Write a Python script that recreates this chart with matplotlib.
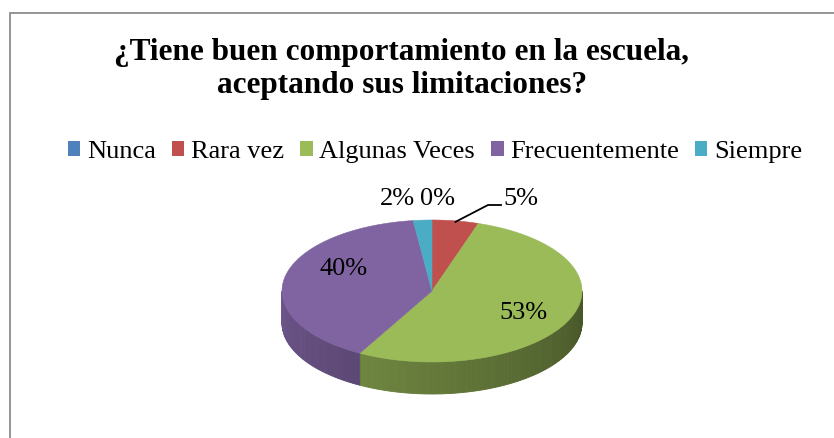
import numpy as np
import matplotlib.pyplot as plt
from matplotlib.patches import Polygon, Rectangle, Patch
from matplotlib.colors import to_rgb

# data
categories = ['Nunca', 'Rara vez', 'Algunas Veces', 'Frecuentemente', 'Siempre']
values = [0, 5, 53, 40, 2]
colors = ['#4F81BD', '#C0504D', '#9BBB59', '#8064A2', '#4BACC6']
title = '¿Tiene buen comportamiento en la escuela,\naceptando sus limitaciones?'

plt.rcParams['font.family'] = ['Liberation Serif', 'DejaVu Serif']

W, H = 834, 438
fig = plt.figure(figsize=(W / 100, H / 100), dpi=100)
ax = fig.add_axes([0, 0, 1, 1])
ax.set_xlim(0, W)
ax.set_ylim(H, 0)
ax.axis('off')

# chart area border (right and bottom edges run off the picture)
ax.add_patch(Rectangle((10, 13), 840, 440, facecolor='white', edgecolor='#8c8c8c', lw=1.3))

# pie geometry (pixels)
cx, cy, a, b, depth = 432, 291, 150, 71, 32


def edge(t):
    """point on the top ellipse, t in degrees clockwise from 12 o'clock"""
    r = np.radians(t)
    return cx + a * np.sin(r), cy - b * np.cos(r)


def shade(c, f):
    return tuple(min(1, v * f) for v in to_rgb(c))


total = float(sum(values))
starts = np.concatenate([[0], np.cumsum(values)[:-1]]) / total * 360
ends = np.cumsum(values) / total * 360

# side walls, drawn as thin strips so the shading can vary
for s, e, c in zip(starts, ends, colors):
    lo, hi = max(s, 90), min(e, 270)
    if hi <= lo:
        continue
    ts = np.linspace(lo, hi, int(hi - lo) + 2)
    for t0, t1 in zip(ts[:-1], ts[1:]):
        x0, y0 = edge(t0)
        x1, y1 = edge(t1)
        f = 0.45 + 0.4 * ((t0 + t1) / 2 - 90) / 180
        col = shade(c, f)
        ax.add_patch(Polygon([(x0, y0), (x1, y1), (x1, y1 + depth), (x0, y0 + depth)],
                             closed=True, facecolor=col, edgecolor=col, lw=0.6))

# top face
for s, e, c in zip(starts, ends, colors):
    if e - s <= 0:
        continue
    ts = np.linspace(s, e, max(int(e - s), 2) + 1)
    pts = [(cx, cy)] + [edge(t) for t in ts]
    ax.add_patch(Polygon(pts, closed=True, facecolor=c, edgecolor=c, lw=0.4))

# data labels
lab_font = dict(fontsize=19, ha='center', va='center', color='black')
label_pos = [(438, 199), (521, 199), (523, 313), (344, 269), (397, 199)]
for v, (lx, ly) in zip(values, label_pos):
    ax.text(lx, ly, '{}%'.format(v), **lab_font)

# leader line for the "Rara vez" label
mid = (starts[1] + ends[1]) / 2
px, py = edge(mid)
ax.plot([px, 488, 501], [py + 1, 205, 205], color='black', lw=1.3)

# title
ax.text(402, 69, title, fontsize=22.5, fontweight='bold', ha='center', va='center',
        linespacing=1.22)

# legend
handles = [Patch(facecolor=c, edgecolor='none') for c in colors]
ax.legend(handles, categories, loc='center', bbox_to_anchor=(435, 152),
          bbox_transform=ax.transData, ncol=5, frameon=False,
          prop={'family': 'Liberation Serif', 'size': 19},
          handlelength=0.48, handleheight=0.48, handletextpad=0.25,
          columnspacing=0.6, borderpad=0, borderaxespad=0)

fig.savefig('out.png', dpi=100)
